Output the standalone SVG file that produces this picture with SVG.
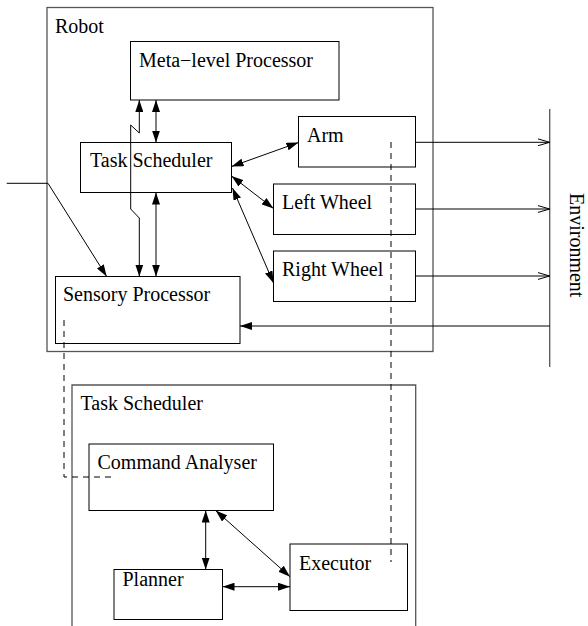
<svg xmlns="http://www.w3.org/2000/svg" width="588" height="626" viewBox="0 0 588 626">
<style>
.box{fill:none;stroke:#000;stroke-width:1}
.outer{fill:none;stroke:#555;stroke-width:1.3}
.t{font-family:"Liberation Serif",serif;font-size:20px;fill:#000}
.c{fill:none;stroke:#000;stroke-width:1}
.d{fill:none;stroke:#000;stroke-width:1;stroke-dasharray:6,5}
</style>
<defs>
<marker id="ah" viewBox="0 0 12 8" refX="12" refY="4" markerWidth="12" markerHeight="8" markerUnits="userSpaceOnUse" orient="auto-start-reverse">
<path d="M0,0 L12,4 L0,8 Z" fill="#000"/>
</marker>
<marker id="oa" viewBox="0 0 12 8" refX="12" refY="4" markerWidth="12" markerHeight="8" markerUnits="userSpaceOnUse" orient="auto">
<path d="M0,0.5 L12,4 L0,7.5" fill="none" stroke="#000" stroke-width="1"/>
</marker>
</defs>
<g id="robot">
<rect class="outer" x="47" y="7.5" width="386" height="344"/>
<text class="t" x="55" y="33">Robot</text>
</g>
<g id="meta">
<rect class="box" x="130.5" y="41.5" width="208.5" height="58.5"/>
<text class="t" x="139" y="67">Meta−level Processor</text>
</g>
<g id="task">
<rect class="box" x="80.5" y="142.5" width="151" height="50"/>
<text class="t" x="90" y="167">Task Scheduler</text>
</g>
<g id="arm">
<rect class="box" x="298.5" y="116.5" width="117" height="50.5"/>
<text class="t" x="307" y="142">Arm</text>
</g>
<g id="leftwheel">
<rect class="box" x="273.5" y="184" width="142" height="50.5"/>
<text class="t" x="282" y="209">Left Wheel</text>
</g>
<g id="rightwheel">
<rect class="box" x="273.5" y="251" width="142" height="50.5"/>
<text class="t" x="282" y="276">Right Wheel</text>
</g>
<g id="sensory">
<rect class="box" x="55.5" y="276.5" width="184.5" height="67"/>
<text class="t" x="63" y="301">Sensory Processor</text>
</g>
<g id="environment">
<line class="outer" x1="549.7" y1="109" x2="549.7" y2="367"/>
<text class="t" transform="translate(570,193) rotate(90)">Environment</text>
</g>
<g id="taskdetail">
<path class="outer" d="M72,626 L72,385 L415.7,385 L415.7,626"/>
<text class="t" x="80.5" y="410">Task Scheduler</text>
</g>
<g id="command">
<rect class="box" x="89" y="444" width="184.5" height="66.5"/>
<text class="t" x="97.5" y="469">Command Analyser</text>
</g>
<g id="planner">
<rect class="box" x="114" y="569.5" width="108.5" height="50"/>
<text class="t" x="122.5" y="586">Planner</text>
</g>
<g id="executor">
<rect class="box" x="290" y="544" width="117.5" height="66.5"/>
<text class="t" x="299" y="570">Executor</text>
</g>
<g id="connectors">
<line class="c" x1="156" y1="100" x2="156" y2="142.5" marker-start="url(#ah)" marker-end="url(#ah)"/>
<line class="c" x1="156" y1="192.5" x2="156" y2="276.5" stroke="#444" marker-start="url(#ah)" marker-end="url(#ah)"/>
<path class="c" d="M139.3,100 L139.3,133 L130.7,125 L130.7,209 L139.3,218 L139.3,276.5" marker-start="url(#ah)" marker-end="url(#ah)"/>
<line class="c" x1="231.5" y1="166.5" x2="298.5" y2="142.5" marker-start="url(#ah)" marker-end="url(#ah)"/>
<line class="c" x1="231.5" y1="176" x2="273.5" y2="208.5" marker-start="url(#ah)" marker-end="url(#ah)"/>
<line class="c" x1="232.5" y1="188" x2="273.5" y2="283" marker-start="url(#ah)" marker-end="url(#ah)"/>
<path class="c" d="M6.7,183.3 L48,183.3 L106.7,276.5" marker-end="url(#ah)"/>
<line class="c" x1="415.5" y1="142.3" x2="549.7" y2="142.3" marker-end="url(#oa)"/>
<line class="c" x1="415.5" y1="209" x2="549.7" y2="209" marker-end="url(#oa)"/>
<line class="c" x1="415.5" y1="276" x2="549.7" y2="276" marker-end="url(#oa)"/>
<line class="c" x1="549.7" y1="326" x2="240" y2="326" marker-end="url(#ah)"/>
<line class="d" x1="391" y1="142" x2="391" y2="562"/>
<path class="d" d="M64,320 L64,477 L114,477"/>
<line class="c" x1="205.7" y1="510.5" x2="205.7" y2="569.5" marker-start="url(#ah)" marker-end="url(#ah)"/>
<line class="c" x1="215.7" y1="510.5" x2="290" y2="576.7" marker-start="url(#ah)" marker-end="url(#ah)"/>
<line class="c" x1="222.5" y1="586.7" x2="290" y2="586.7" marker-start="url(#ah)" marker-end="url(#ah)"/>
</g>
</svg>
